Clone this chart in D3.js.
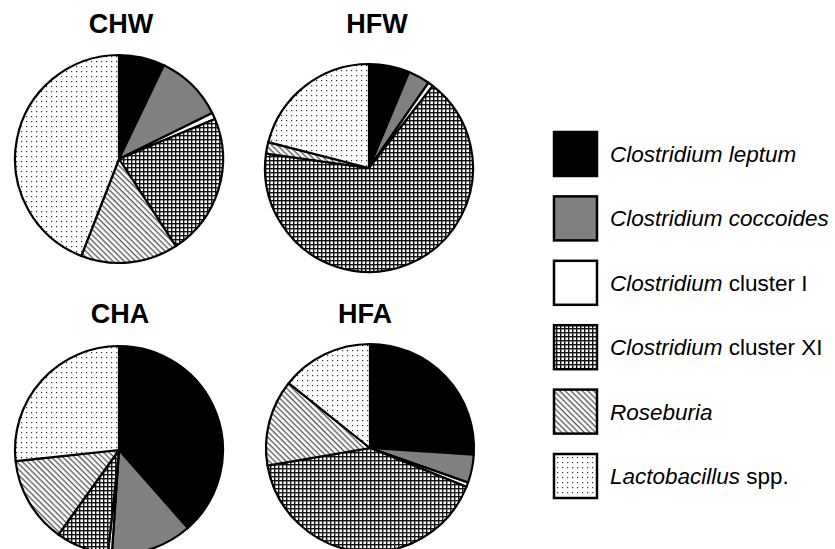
<!DOCTYPE html>
<html>
<head>
<meta charset="utf-8">
<script src="https://cdn.jsdelivr.net/npm/d3@7"></script>
<style>
body{margin:0;background:#fff;}
svg{display:block;}
</style>
</head>
<body>
<svg id="chart" width="835" height="549"></svg>
<script>
'use strict'

// groups, series names and per group percentages
var groups = ['CHW', 'HFW', 'CHA', 'HFA'];
var taxa = ['leptum', 'coccoides', 'clusterI', 'clusterXI', 'roseburia', 'lacto'];
var chw = [7.1, 10.6, 1.0, 22.1, 15.1, 44.1];
var hfw = [6.3, 3.4, 0.8, 66.7, 1.8, 21.0];
var cha = [38.5, 12.6, 0.6, 8.2, 13.4, 26.7];
var hfa = [26.0, 4.4, 0.7, 41.2, 13.4, 14.3];
var values = [chw, hfw, cha, hfa];

var svg = d3.select('#chart');

function defs(){
	var d = svg.append('defs');

	var grid = d.append('pattern').attr('id', 'p-clusterXI')
		.attr('patternUnits', 'userSpaceOnUse').attr('width', 4).attr('height', 4);
	grid.append('rect').attr('width', 4).attr('height', 4).attr('fill', '#fff');
	grid.append('rect').attr('width', 4).attr('height', 1.4).attr('fill', '#111');
	grid.append('rect').attr('width', 1.4).attr('height', 4).attr('fill', '#111');

	var diag = d.append('pattern').attr('id', 'p-roseburia')
		.attr('patternUnits', 'userSpaceOnUse').attr('width', 4).attr('height', 4)
		.attr('patternTransform', 'rotate(45)');
	diag.append('rect').attr('width', 4).attr('height', 4).attr('fill', '#fff');
	diag.append('rect').attr('width', 4).attr('height', 1.3).attr('fill', '#555');

	var dots = d.append('pattern').attr('id', 'p-lacto')
		.attr('patternUnits', 'userSpaceOnUse').attr('width', 5).attr('height', 5);
	dots.append('rect').attr('width', 5).attr('height', 5).attr('fill', '#fff');
	dots.append('rect').attr('x', 2).attr('y', 2).attr('width', 1.2).attr('height', 1.2).attr('fill', '#333');
}
defs();

var fills = d3.scaleOrdinal()
	.domain(taxa)
	.range(['#000', '#808080', '#fff', 'url(#p-clusterXI)', 'url(#p-roseburia)', 'url(#p-lacto)']);

var layout = {
	CHW: {cx: 119, cy: 159, tx: 121, ty: 33},
	HFW: {cx: 369, cy: 168, tx: 377, ty: 33},
	CHA: {cx: 119, cy: 450, tx: 120, ty: 323},
	HFA: {cx: 370, cy: 448, tx: 365, ty: 323}
};
var radius = 104;

var pie = d3.pie().sort(null).value(function(d){ return d.v; });
var arc = d3.arc().innerRadius(0).outerRadius(radius);

groups.forEach(function(g, gi){
	var pos = layout[g];
	var data = taxa.map(function(t, i){ return {k: t, v: values[gi][i]}; });

	svg.append('text')
		.attr('x', pos.tx).attr('y', pos.ty)
		.attr('text-anchor', 'middle')
		.attr('font-family', 'Liberation Sans, Arial, sans-serif')
		.attr('font-weight', 'bold').attr('font-size', 27)
		.text(g);

	var gp = svg.append('g').attr('transform', 'translate(' + pos.cx + ',' + pos.cy + ')');
	gp.selectAll('path')
		.data(pie(data))
		.enter().append('path')
		.attr('d', arc)
		.attr('fill', function(d){ return fills(d.data.k); })
		.attr('stroke', '#000')
		.attr('stroke-width', 2.2)
		.attr('stroke-linejoin', 'round');
});

var labels = [
	[{t: 'Clostridium leptum', i: true}],
	[{t: 'Clostridium coccoides', i: true}],
	[{t: 'Clostridium', i: true}, {t: ' cluster I', i: false}],
	[{t: 'Clostridium', i: true}, {t: ' cluster XI', i: false}],
	[{t: 'Roseburia', i: true}],
	[{t: 'Lactobacillus', i: true}, {t: ' spp.', i: false}]
];

var ly = d3.scalePoint().domain(taxa).range([132, 454]);

var leg = svg.append('g');
taxa.forEach(function(t, i){
	leg.append('rect')
		.attr('x', 554).attr('y', ly(t))
		.attr('width', 43).attr('height', 44)
		.attr('fill', fills(t))
		.attr('stroke', '#000').attr('stroke-width', 2.5);

	var txt = leg.append('text')
		.attr('x', 610).attr('y', ly(t) + 30)
		.attr('font-family', 'Liberation Sans, Arial, sans-serif')
		.attr('font-size', 22.5);
	labels[i].forEach(function(s){
		txt.append('tspan').attr('font-style', s.i ? 'italic' : 'normal').text(s.t);
	});
});
</script>
</body>
</html>
